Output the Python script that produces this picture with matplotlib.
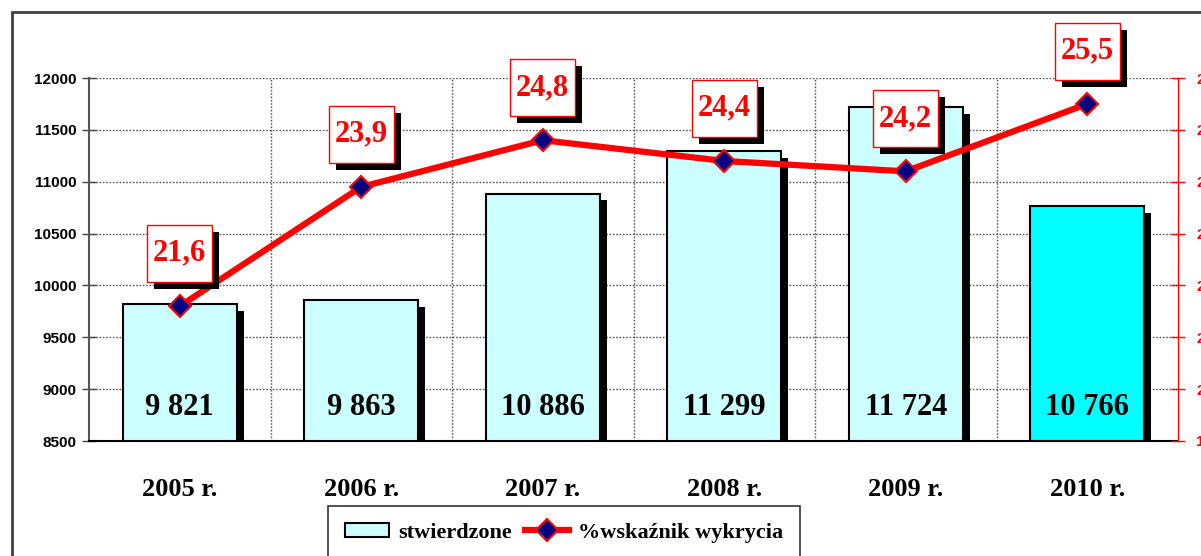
import matplotlib

matplotlib.use("Agg")
import matplotlib.patches as mpatches  # noqa: E402
import matplotlib.patheffects as pe  # noqa: E402
import matplotlib.pyplot as plt  # noqa: E402
from matplotlib.lines import Line2D  # noqa: E402
from matplotlib.path import Path  # noqa: E402

years = ["2005 r.", "2006 r.", "2007 r.", "2008 r.", "2009 r.", "2010 r."]
stwierdzone = [9821, 9863, 10886, 11299, 11724, 10766]
wskaznik = [21.6, 23.9, 24.8, 24.4, 24.2, 25.5]
left_ticks = [8500, 9000, 9500, 10000, 10500, 11000, 11500, 12000]
right_ticks = [19, 20, 21, 22, 23, 24, 25, 26]

SERIF = "Liberation Serif"
SANS = "Liberation Sans"


def fmt_thousands(v):
    return f"{v:,}".replace(",", " ")


def label_box(x0, y0, width, height, mutation_size):
    # wider vertical padding than horizontal, like the original labels
    px, py = 0.2 * mutation_size, 0.46 * mutation_size
    x0, y0 = x0 - px, y0 - py
    x1, y1 = x0 + width + 2 * px, y0 + height + 2 * py
    return Path([(x0, y0), (x1, y0), (x1, y1), (x0, y1), (x0, y0)], closed=True)


def main():
    fig = plt.figure(figsize=(12.01, 5.56), dpi=100)
    ax = fig.add_axes([89 / 1201, 1 - 441 / 556, (1178 - 89) / 1201, 363 / 556])
    ax2 = ax.twinx()

    # outer frame
    fig.patches.append(mpatches.Rectangle(
        (12 / 1201, -0.2), 1.2, 1.2 - 12 / 556, transform=fig.transFigure,
        fill=False, ec="#404040", lw=2))

    x = list(range(len(years)))
    colors = ["#CCFFFF"] * 5 + ["#00FFFF"]
    bars = ax.bar(x, stwierdzone, width=0.63, color=colors, edgecolor="black",
                  linewidth=1.5, zorder=2)
    for b in bars:
        b.set_path_effects([pe.SimplePatchShadow(offset=(5, -5), shadow_rgbFace="black",
                                                 alpha=1.0), pe.Normal()])
    for xi, v in zip(x, stwierdzone):
        ax.text(xi, 8820, fmt_thousands(v), ha="center", va="center",
                fontsize=22, fontweight="bold", family=SERIF, zorder=3)

    ax.set_ylim(8500, 12000)
    ax.set_xlim(-0.5, 5.5)
    ax.set_yticks(left_ticks)
    ax.set_yticklabels([str(t) for t in left_ticks], fontsize=11, fontweight="bold",
                       family=SANS)
    ax.tick_params(axis="y", direction="inout", length=10, width=1, color="#444", pad=4)
    ax.set_xticks(x)
    ax.set_xticklabels(years, fontsize=19, fontweight="bold", family=SERIF)
    ax.tick_params(axis="x", length=0, pad=27)
    ax.set_xticks([0.5, 1.5, 2.5, 3.5, 4.5], minor=True)
    ax.tick_params(axis="x", which="minor", length=0)
    ax.grid(axis="y", which="major", linestyle=(0, (1.2, 1.2)), color="#555", lw=1)
    ax.grid(axis="x", which="minor", linestyle=(0, (1.2, 1.2)), color="#555", lw=1)
    ax.set_axisbelow(True)
    ax.spines["top"].set_visible(False)
    ax.spines["right"].set_visible(False)
    ax.spines["left"].set_color("#555")
    ax.spines["left"].set_linewidth(1.5)
    ax.spines["bottom"].set_color("black")
    ax.spines["bottom"].set_linewidth(1.5)

    ax2.set_ylim(19, 26)
    ax2.set_yticks(right_ticks)
    ax2.set_yticklabels([str(t) for t in right_ticks], fontsize=11, fontweight="bold",
                        family=SANS, color="red")
    ax2.tick_params(axis="y", direction="inout", length=10, width=1, color="red", pad=8)
    for s in ["top", "left", "bottom"]:
        ax2.spines[s].set_visible(False)
    ax2.spines["right"].set_color("red")
    ax2.spines["right"].set_linestyle((0, (3, 1)))
    ax2.spines["right"].set_linewidth(1)

    ax2.plot(x, wskaznik, color="red", lw=4.5, marker="D", markersize=11,
             markerfacecolor="#000080", markeredgecolor="red", markeredgewidth=1.5,
             zorder=4)
    for xi, v in zip(x, wskaznik):
        t = ax2.annotate(f"{v:.1f}".replace(".", ","), (xi, v), xytext=(0, 38),
                         textcoords="offset points", ha="center", va="center",
                         fontsize=22, fontweight="bold", family=SERIF, color="red",
                         bbox=dict(boxstyle=label_box, fc="white", ec="red", lw=1),
                         zorder=5)
        t.get_bbox_patch().set_path_effects([
            pe.SimplePatchShadow(offset=(5, -5), shadow_rgbFace="black", alpha=1.0),
            pe.Normal()])

    handles = [
        mpatches.Patch(facecolor="#CCFFFF", edgecolor="black", lw=1.5),
        Line2D([], [], color="red", lw=4.5, marker="D", markersize=11,
               markerfacecolor="#000080", markeredgecolor="red", markeredgewidth=1.5),
    ]
    leg = fig.legend(handles, ["stwierdzone", "%wskaźnik wykrycia"], loc="upper center",
                     bbox_to_anchor=(564 / 1201, 1 - 506 / 556), ncol=2, frameon=True,
                     fancybox=False, edgecolor="black", borderpad=0.75, borderaxespad=0,
                     handlelength=2.0, handleheight=0.6, columnspacing=0.6,
                     handletextpad=0.4, prop=dict(family=SERIF, weight="bold", size=16))
    leg.get_frame().set_linewidth(1.2)

    fig.savefig("out.png", dpi=100)


if __name__ == "__main__":
    main()
